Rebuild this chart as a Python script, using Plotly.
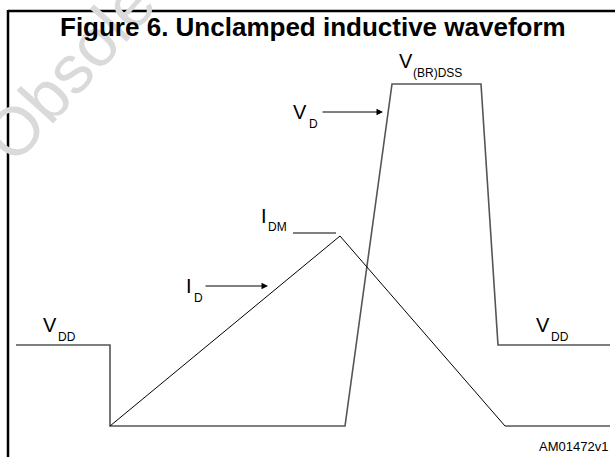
import plotly.graph_objects as go

# V_D waveform (gray) : time axis (px-like units) and level
vd_t = [16, 110, 110, 345, 392, 481, 498, 610]
vd_v = [345, 345, 426, 426, 84, 84, 345, 345]
# I_D waveform (black)
id_t = [110, 340, 505, 610]
id_i = [426, 236, 426, 426]

title_text = "Figure 6. Unclamped inductive waveform"
code_text = "AM01472v1"
watermark_text = "Obsolete"

FONT = "Arial, Liberation Sans, sans-serif"

fig = go.Figure()
fig.add_trace(go.Scatter(x=vd_t, y=vd_v, mode="lines",
                         line=dict(color="#555555", width=1.6), hoverinfo="skip"))
fig.add_trace(go.Scatter(x=id_t, y=id_i, mode="lines",
                         line=dict(color="#000000", width=1), hoverinfo="skip"))

shapes = [
    # border (top and left)
    dict(type="line", xref="x", yref="y", x0=8, x1=615, y0=11, y1=11,
         line=dict(color="black", width=2.5), layer="above"),
    dict(type="line", xref="x", yref="y", x0=8, x1=8, y0=10, y1=457,
         line=dict(color="black", width=2.5), layer="above"),
    # I_DM marker line
    dict(type="line", xref="x", yref="y", x0=293, x1=336, y0=233, y1=233,
         line=dict(color="black", width=1)),
]

annotations = []
# watermark
annotations.append(dict(xref="x", yref="y", x=88, y=49, text=watermark_text, showarrow=False,
                        textangle=-48, font=dict(family=FONT, size=68, color="#dadada")))

def lab(x, y, t, size, anchor="left"):
    annotations.append(dict(xref="x", yref="y", x=x, y=y, text=t, showarrow=False,
                            xanchor=anchor, yanchor="middle",
                            font=dict(family=FONT, size=size, color="black")))

annotations.append(dict(xref="x", yref="y", x=313, y=27, text="<b>%s</b>" % title_text,
                        showarrow=False, font=dict(family=FONT, size=26, color="black")))
annotations.append(dict(xref="x", yref="y", x=610, y=446, text=code_text, showarrow=False,
                        xanchor="right", font=dict(family=FONT, size=13, color="black")))

# V_DD left
lab(41, 325, "V", 20)
lab(56, 337, "DD", 12)
# V_DD right
lab(534, 325, "V", 20)
lab(549, 337, "DD", 12)
# I_D
lab(184, 286, "I", 20)
lab(192, 298, "D", 12)
# I_DM
lab(259, 216, "I", 20)
lab(266, 227, "DM", 12)
# V_D
lab(291, 112, "V", 20)
lab(307, 124, "D", 12)
# V_(BR)DSS
lab(397, 61, "V", 20)
lab(411, 73, "(BR)DSS", 12)

# arrows
for (x0, x1, y) in [(204, 268, 286), (321, 383, 112)]:
    annotations.append(dict(xref="x", yref="y", axref="x", ayref="y",
                            x=x1, y=y, ax=x0, ay=y, text="", showarrow=True,
                            arrowhead=2, arrowsize=1.3, arrowwidth=1, arrowcolor="black"))

fig.update_layout(
    width=615, height=457,
    margin=dict(l=0, r=0, t=0, b=0),
    paper_bgcolor="white", plot_bgcolor="white",
    showlegend=False,
    xaxis=dict(range=[0, 615], visible=False, fixedrange=True),
    yaxis=dict(range=[457, 0], visible=False, fixedrange=True),
    shapes=shapes, annotations=annotations,
)

fig.write_html("out.html", config={"displayModeBar": False},
               post_script="document.body.style.margin='0';document.body.style.overflow='hidden';")
